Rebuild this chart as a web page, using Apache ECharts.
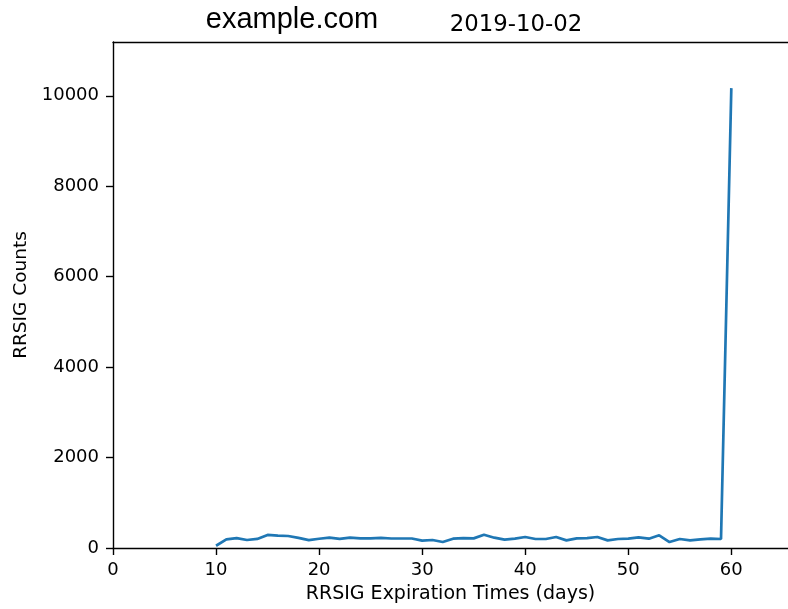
<!DOCTYPE html>
<html>
<head>
<meta charset="utf-8">
<script src="https://cdn.jsdelivr.net/npm/echarts@6/dist/echarts.min.js"></script>
<style>
html,body{margin:0;padding:0;background:#fff;}
#c{width:788px;height:609px;}
</style>
</head>
<body>
<div id="c"></div>
<script>
const days = [10,11,12,13,14,15,16,17,18,19,20,21,22,23,24,25,26,27,28,29,30,31,32,33,34,35,36,37,38,39,40,41,42,43,44,45,46,47,48,49,50,51,52,53,54,55,56,57,58,59,60];
const counts = [50,190,220,177,200,290,275,265,225,175,205,230,200,230,215,215,225,210,210,210,162,177,132,206,220,213,294,228,184,206,243,199,199,243,169,213,220,243,169,199,206,235,206,280,132,199,169,191,206,199,10170];
const xTicks = [0,10,20,30,40,50,60];
const yTicks = [0,2000,4000,6000,8000,10000];

const chart = echarts.init(document.getElementById('c'), null, {renderer:'canvas'});
const font = 'DejaVu Sans';
chart.setOption({
  animation: false,
  backgroundColor: '#fff',
  title: [
    {text: 'example.com', left: 287, top: 0, textAlign: 'center',
     textStyle: {fontFamily: 'Liberation Sans', fontSize: 29, fontWeight: 'normal', color: '#000'}},
    {text: '2019-10-02', left: 511, top: 9, textAlign: 'center',
     textStyle: {fontFamily: font, fontSize: 22.8, fontWeight: 'normal', color: '#000'}}
  ],
  grid: {left: 113, top: 42, right: 0, bottom: 57, containLabel: false},
  xAxis: [{
    type: 'value', min: 0, max: 65.5, interval: 10,
    name: 'RRSIG Expiration Times (days)', nameLocation: 'middle', nameGap: 37,
    nameTextStyle: {fontFamily: font, fontSize: 19, color: '#000'},
    axisLine: {show: true, onZero: false, lineStyle: {color: '#000', width: 1.4}},
    axisTick: {show: true, inside: false, length: 7, lineStyle: {color: '#000', width: 1.4}},
    axisLabel: {fontFamily: font, fontSize: 18, color: '#000', margin: 13, showMaxLabel: false,
      formatter: v => xTicks.includes(v) ? String(v) : ''},
    splitLine: {show: false}
  }, {
    type: 'value', min: 0, max: 65.5, position: 'top',
    axisLine: {show: true, onZero: false, lineStyle: {color: '#000', width: 1.4}},
    axisTick: {show: false}, axisLabel: {show: false}, splitLine: {show: false}
  }],
  yAxis: {
    type: 'value', min: 0, max: 11190, interval: 2000,
    name: 'RRSIG Counts', nameLocation: 'middle', nameGap: 80, nameRotate: 90,
    nameTextStyle: {fontFamily: font, fontSize: 18.5, color: '#000'},
    axisLine: {show: true, onZero: false, lineStyle: {color: '#000', width: 1.4}},
    axisTick: {show: true, inside: false, length: 7, lineStyle: {color: '#000', width: 1.4}},
    axisLabel: {fontFamily: font, fontSize: 18, color: '#000', margin: 14, showMaxLabel: false,
      formatter: v => yTicks.includes(v) ? String(v) : ''},
    splitLine: {show: false}
  },
  series: [{
    type: 'line', xAxisIndex: 0,
    data: days.map((d, i) => [d, counts[i]]),
    showSymbol: false, symbol: 'none',
    lineStyle: {color: '#1f77b4', width: 2.7},
    itemStyle: {color: '#1f77b4'}
  }]
});
</script>
</body>
</html>
